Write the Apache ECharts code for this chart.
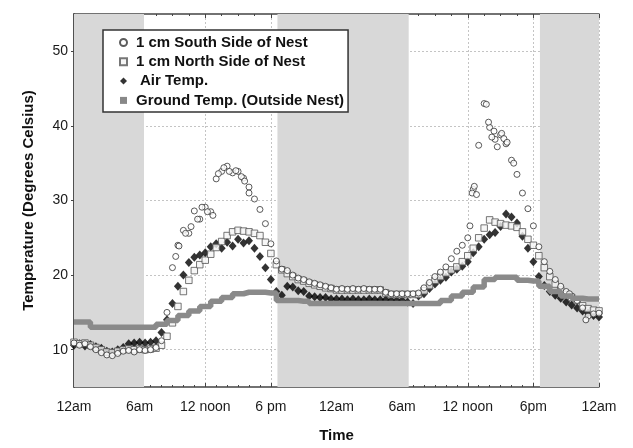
<!DOCTYPE html>
<html>
<head>
<meta charset="utf-8">
<script src="https://cdn.jsdelivr.net/npm/echarts@6/dist/echarts.min.js"></script>
<style>
html, body { margin: 0; padding: 0; background: #fff; }
#chart { width: 633px; height: 448px; }
</style>
</head>
<body>
<div id="chart"></div>
<script>
'use strict'
var FONT = 'Liberation Sans, Arial, sans-serif'

var xTickLabels = ['12am', '6am', '12 noon', '6 pm', '12am', '6am', '12 noon', '6pm', '12am']
var yLabelValues = [10, 20, 30, 40, 50]
var yMinorTicks = [6, 8, 10, 12, 14, 16, 18, 20, 22, 24, 26, 28, 30, 32, 34, 36, 38, 40, 42, 44, 46, 48, 50, 52, 54]
// dark periods (hours from first midnight)
var nights = [[0, 6.4], [18.6, 30.6], [42.6, 48]]

// readings every half hour, 0h .. 48h
var southSide = [
  10.9, 10.6, 10.8, 10.4, 10.0, 9.6, 9.3, 9.2, 9.5, 9.8, 9.9, 9.7,
  10.0, 9.9, 10.0, 10.3, 11.2, 15.0, 21.0, 24.0, 26.0, 25.6, 28.6, 27.5,
  29.1, 28.5, 32.9, 33.9, 34.6, 33.7, 33.9, 33.0, 31.8, 30.2, 28.8, 26.9,
  24.2, 21.9, 20.8, 20.6, 20.0, 19.6, 19.4, 19.1, 18.9, 18.7, 18.5, 18.3,
  18.1, 18.2, 18.1, 18.2, 18.1, 18.2, 18.1, 18.1, 18.1, 17.7, 17.5, 17.5,
  17.5, 17.5, 17.5, 17.6, 18.3, 19.0, 19.8, 20.4, 21.1, 22.2, 23.2, 24.0,
  25.0, 31.5, 37.4, 43.0, 39.8, 38.2, 38.8, 37.6, 35.4, 33.5, 31.0, 28.9,
  26.6, 23.8, 21.8, 20.5, 19.4, 18.5, 17.8, 17.2, 16.6, 15.6, 14.5, 14.8,
  14.9
]
// scattered extra south-side readings [hour, temp]
var southExtra = [
  [9.3, 22.5], [9.6, 23.9], [10.2, 25.6], [10.7, 26.5], [11.3, 27.5], [11.7, 29.1],
  [12.2, 28.5], [12.7, 28.0], [13.2, 33.6], [13.7, 34.4], [14.2, 33.9], [14.8, 34.0],
  [15.3, 33.2], [15.6, 32.6], [16.0, 31.0], [36.2, 26.6], [36.4, 31.0], [36.6, 31.9],
  [36.8, 30.8], [37.7, 42.9], [37.9, 40.5], [38.2, 38.5], [38.4, 39.3], [38.7, 37.2],
  [39.1, 39.0], [39.3, 38.3], [39.6, 37.8], [40.2, 35.0], [45.3, 17.5], [46.8, 14.0]
]
var northSide = [
  11.0, 10.8, 10.9, 10.6, 10.3, 10.0, 9.7, 9.6, 9.8, 10.0, 10.1, 10.0,
  10.1, 10.0, 10.1, 10.2, 10.6, 11.8, 13.6, 15.8, 17.8, 19.3, 20.6, 21.4,
  22.0, 22.8, 23.7, 24.5, 25.3, 25.8, 26.0, 25.9, 25.8, 25.6, 25.3, 24.4,
  22.9, 21.4, 20.7, 20.2, 19.8, 19.4, 19.2, 18.9, 18.7, 18.5, 18.3, 18.2,
  18.0, 18.0, 18.0, 18.0, 18.0, 18.0, 18.0, 18.0, 18.0, 17.6, 17.4, 17.4,
  17.4, 17.4, 17.4, 17.4, 17.9, 18.6, 19.3, 19.8, 20.3, 20.7, 21.1, 21.8,
  22.6, 23.6, 25.0, 26.3, 27.4, 27.1, 26.9, 26.7, 26.6, 26.4, 25.8, 24.8,
  24.0, 22.6, 21.0, 19.8, 18.8, 18.0, 17.4, 17.0, 16.6, 15.9, 15.5, 15.3,
  15.2
]
var airTemp = [
  10.6, 10.8, 10.5, 10.7, 10.4, 10.2, 9.8, 9.7, 10.0, 10.3, 10.8, 10.9,
  11.0, 10.9, 11.0, 11.2, 12.3, 14.0, 16.2, 18.5, 20.0, 21.7, 22.4, 22.7,
  23.0, 23.8, 24.2, 23.6, 24.4, 23.9, 24.8, 24.3, 24.6, 23.6, 22.5, 21.0,
  19.4, 17.8, 17.3, 18.5, 18.4, 17.9, 17.8, 17.2, 17.1, 17.0, 17.0, 16.8,
  16.8, 16.8, 16.7, 16.8, 16.7, 16.7, 16.8, 16.7, 16.7, 16.7, 16.6, 16.6,
  16.6, 16.4, 16.2, 17.2, 17.5, 18.2, 18.8, 19.3, 19.7, 20.4, 20.8, 21.2,
  21.8, 23.0, 23.8, 24.8, 25.4, 25.7, 26.5, 28.2, 27.8, 27.0, 25.2, 23.6,
  21.8, 19.8, 18.6, 17.8, 17.3, 16.9, 16.4, 16.0, 15.6, 15.2, 14.9, 14.6,
  14.4
]
// hourly, 0h .. 48h
var groundTemp = [
  13.7, 13.7, 13.0, 13.0, 13.0, 13.0, 13.0, 13.0, 13.4, 13.9, 14.6, 15.2,
  15.8, 16.5, 17.0, 17.5, 17.7, 17.7, 17.6, 16.6, 16.6, 16.5, 16.2, 16.2,
  16.2, 16.2, 16.2, 16.2, 16.2, 16.2, 16.2, 16.2, 16.2, 16.2, 16.6, 17.2,
  17.7, 18.4, 19.4, 19.7, 19.7, 19.3, 19.2, 18.5, 17.8, 17.2, 16.9, 16.8,
  16.8
]

function pairs(values, step) {
  var out = []
  for (var i = 0; i < values.length; i++) out.push([i * step, values[i]])
  return out
}

var chart = echarts.init(document.getElementById('chart'))

var axisColor = '#444'
var labelStyle = { color: '#1a1a1a', fontSize: 14, fontFamily: FONT }

chart.setOption({
  animation: false,
  backgroundColor: '#fff',
  grid: { left: 74, right: 34, top: 14, bottom: 57, containLabel: false },
  legend: {
    left: 103,
    top: 30,
    orient: 'vertical',
    backgroundColor: '#fff',
    borderColor: '#333',
    borderWidth: 1.5,
    padding: [4, 4, 3, 16],
    itemGap: 2.3,
    itemWidth: 7,
    itemHeight: 7,
    textStyle: {
      fontFamily: FONT, fontWeight: 'bold', fontSize: 15, lineHeight: 17,
      color: '#111', padding: [0, 0, 0, 4]
    },
    data: [
      { name: '1 cm South Side of Nest', icon: 'circle' },
      { name: '1 cm North Side of Nest', icon: 'rect' },
      { name: 'Air Temp.', icon: 'diamond', textStyle: { padding: [0, 0, 0, 8] } },
      { name: 'Ground Temp. (Outside Nest)', icon: 'rect', itemStyle: { color: '#888' } }
    ]
  },
  xAxis: [
    {
      type: 'value',
      min: 0,
      max: 48,
      interval: 6,
      name: 'Time',
      nameLocation: 'middle',
      nameGap: 41,
      nameTextStyle: { fontFamily: FONT, fontWeight: 'bold', fontSize: 15, color: '#111' },
      axisLine: { show: true, lineStyle: { color: axisColor, width: 1.5 } },
      axisTick: { show: true, inside: true, length: 4, lineStyle: { color: axisColor } },
      minorTick: { show: true, splitNumber: 6, length: 2, lineStyle: { color: axisColor } },
      axisLabel: Object.assign({
        margin: 13,
        formatter: function (v) { return xTickLabels[Math.round(v / 6)] }
      }, labelStyle),
      splitLine: { show: true, lineStyle: { color: '#c4c4c4', type: [2, 2] } }
    },
    {
      type: 'value',
      position: 'top',
      min: 0,
      max: 48,
      interval: 6,
      axisLine: { show: true, lineStyle: { color: axisColor, width: 1.5 } },
      axisTick: { show: true, inside: true, length: 4, lineStyle: { color: axisColor } },
      minorTick: { show: true, splitNumber: 4, length: 2, lineStyle: { color: axisColor } },
      axisLabel: { show: false },
      splitLine: { show: false }
    }
  ],
  yAxis: [
    {
      type: 'value',
      min: 5,
      max: 55,
      name: 'Temperature (Degrees Celsius)',
      nameLocation: 'middle',
      nameGap: 38,
      nameTextStyle: { fontFamily: FONT, fontWeight: 'bold', fontSize: 15, color: '#111' },
      axisLine: { show: true, lineStyle: { color: axisColor, width: 1.5 } },
      axisTick: { show: true, inside: true, length: 3, customValues: yMinorTicks, lineStyle: { color: axisColor } },
      axisLabel: Object.assign({ margin: 6, customValues: yLabelValues }, labelStyle),
      splitLine: { show: false }
    },
    {
      type: 'value',
      position: 'right',
      min: 5,
      max: 55,
      axisLine: { show: true, lineStyle: { color: axisColor, width: 1.5 } },
      axisTick: { show: true, inside: true, length: 3, customValues: yLabelValues, lineStyle: { color: axisColor } },
      axisLabel: { show: false },
      splitLine: { show: true, lineStyle: { color: '#c4c4c4', type: [2, 2] } }
    }
  ],
  series: [
    {
      name: 'Ground Temp. (Outside Nest)',
      type: 'line',
      step: 'middle',
      data: pairs(groundTemp, 1),
      showSymbol: false,
      symbol: 'none',
      color: '#888',
      lineStyle: { color: '#8a8a8a', width: 5.5 },
      markArea: {
        silent: true,
        itemStyle: { color: '#d8d8d8' },
        data: nights.map(function (n) { return [{ xAxis: n[0] }, { xAxis: n[1] }] })
      }
    },
    {
      name: 'Air Temp.',
      type: 'scatter',
      data: pairs(airTemp, 0.5),
      symbol: 'diamond',
      symbolSize: [8, 9],
      itemStyle: { color: '#000' }
    },
    {
      name: '1 cm North Side of Nest',
      type: 'scatter',
      data: pairs(northSide, 0.5),
      symbol: 'rect',
      symbolSize: 6.5,
      itemStyle: { color: '#f4f4f4', borderColor: '#555', borderWidth: 1 }
    },
    {
      name: '1 cm South Side of Nest',
      type: 'scatter',
      data: pairs(southSide, 0.5).concat(southExtra),
      symbol: 'circle',
      symbolSize: 6,
      itemStyle: { color: '#fff', borderColor: '#333', borderWidth: 1 }
    }
  ]
})
</script>
</body>
</html>
